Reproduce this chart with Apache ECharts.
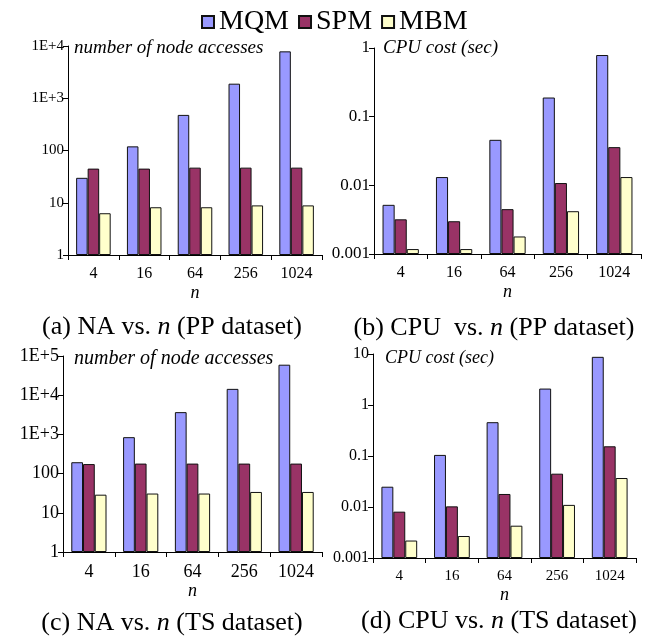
<!DOCTYPE html>
<html>
<head>
<meta charset="utf-8">
<script src="https://cdn.jsdelivr.net/npm/echarts@6/dist/echarts.min.js"></script>
<style>
  html, body { margin: 0; padding: 0; background: #fff; }
  #chart { width: 649px; height: 636px; }
</style>
</head>
<body>
<div id="chart"></div>
<script>
// categories (n)
const categories = ["4", "16", "64", "256", "1024"];
const seriesNames = ["MQM", "SPM", "MBM"];

// (a) NA vs. n (PP dataset)
const naPP_MQM = [30, 120, 480, 1900, 7900];
const naPP_SPM = [45, 45, 47, 47, 47];
const naPP_MBM = [6.3, 8.2, 8.2, 8.9, 8.9];

// (b) CPU vs. n (PP dataset)
const cpuPP_MQM = [0.0052, 0.0132, 0.046, 0.19, 0.79];
const cpuPP_SPM = [0.0032, 0.003, 0.0045, 0.0108, 0.036];
const cpuPP_MBM = [0.00118, 0.00118, 0.0018, 0.0042, 0.0132];

// (c) NA vs. n (TS dataset)
const naTS_MQM = [195, 850, 3700, 14500, 60000];
const naTS_SPM = [175, 180, 180, 180, 180];
const naTS_MBM = [29, 31, 31, 34, 34];

// (d) CPU vs. n (TS dataset)
const cpuTS_MQM = [0.025, 0.105, 0.46, 2.1, 8.8];
const cpuTS_SPM = [0.0081, 0.0103, 0.018, 0.045, 0.155];
const cpuTS_MBM = [0.0022, 0.0027, 0.0043, 0.011, 0.037];

const colors = ["#9999FF", "#993366", "#FFFFCC"];
const FONT = "Liberation Serif";

const chart = echarts.init(document.getElementById("chart"));

const panels = [
  { grid: { left: 68, top: 46, width: 254, height: 209 }, min: 1, max: 1e4, data: [naPP_MQM, naPP_SPM, naPP_MBM], yFont: 15, xFont: 16, sci: true },
  { grid: { left: 374, top: 48, width: 267, height: 206 }, min: 0.001, max: 1, data: [cpuPP_MQM, cpuPP_SPM, cpuPP_MBM], yFont: 17, xFont: 16, sci: false },
  { grid: { left: 63, top: 356, width: 259, height: 196 }, min: 1, max: 1e5, data: [naTS_MQM, naTS_SPM, naTS_MBM], yFont: 18, xFont: 18, sci: true },
  { grid: { left: 373, top: 354, width: 263, height: 204 }, min: 0.001, max: 10, data: [cpuTS_MQM, cpuTS_SPM, cpuTS_MBM], yFont: 16, xFont: 15, sci: false }
];

function fmt(sci) {
  return function (v) {
    const e = Math.round(Math.log10(v));
    if (sci && e >= 3) return "1E+" + e;
    return String(Number(Math.pow(10, e).toPrecision(1)));
  };
}

const series = [];
panels.forEach((p, i) => {
  p.data.forEach((vals, k) => {
    series.push({
      name: seriesNames[k],
      type: "bar",
      xAxisIndex: i,
      yAxisIndex: i,
      data: vals,
      barGap: 0,
      barCategoryGap: "32%",
      itemStyle: { color: colors[k], borderColor: "#111", borderWidth: 1 }
    });
  });
});

const texts = [
  // y axis titles
  { x: 74, y: 48, text: "{i|number of node accesses}", size: 19, align: "left" },
  { x: 383, y: 48, text: "{i|CPU cost (sec)}", size: 19, align: "left" },
  { x: 74, y: 359, text: "{i|number of node accesses}", size: 20, align: "left" },
  { x: 385, y: 358, text: "{i|CPU cost (sec)}", size: 18, align: "left" },
  // captions
  { x: 172, y: 327, text: "{r|(a) NA vs. }{i|n}{r| (PP dataset)}", size: 26, align: "center" },
  { x: 494, y: 328, text: "{r|(b) CPU  vs. }{i|n}{r| (PP dataset)}", size: 26, align: "center" },
  { x: 172, y: 623, text: "{r|(c) NA vs. }{i|n}{r| (TS dataset)}", size: 26, align: "center" },
  { x: 499, y: 621, text: "{r|(d) CPU vs. }{i|n}{r| (TS dataset)}", size: 26, align: "center" }
];

const option = {
  animation: false,
  backgroundColor: "#fff",
  textStyle: { fontFamily: FONT, color: "#000" },
  legend: {
    data: seriesNames,
    left: 196,
    top: 3,
    itemWidth: 12,
    itemHeight: 12,
    itemGap: 9,
    icon: "rect",
    textStyle: { fontFamily: FONT, fontSize: 28, color: "#000" }
  },
  grid: panels.map(p => p.grid),
  xAxis: panels.map((p, i) => ({
    type: "category",
    gridIndex: i,
    data: categories,
    name: "n",
    nameLocation: "middle",
    nameGap: i >= 2 ? 28 : 29,
    nameTextStyle: { fontFamily: FONT, fontStyle: "italic", fontSize: 18, color: "#000" },
    axisLine: { lineStyle: { color: "#000", width: 1 } },
    axisTick: { show: true, length: 5, lineStyle: { color: "#000" } },
    axisLabel: { fontFamily: FONT, fontSize: p.xFont, color: "#000", margin: 11 }
  })),
  yAxis: panels.map((p, i) => ({
    type: "log",
    logBase: 10,
    gridIndex: i,
    min: p.min,
    max: p.max,
    startValue: p.min,
    axisLine: { show: true, lineStyle: { color: "#000", width: 1 } },
    axisTick: { show: true, length: 5, lineStyle: { color: "#000" } },
    splitLine: { show: false },
    minorTick: { show: false },
    axisLabel: { fontFamily: FONT, fontSize: p.yFont, color: "#000", margin: 4, formatter: fmt(p.sci) }
  })),
  series: series,
  graphic: texts.map(t => ({
    type: "text",
    x: t.x,
    y: t.y,
    style: {
      text: t.text,
      align: t.align,
      verticalAlign: "middle",
      rich: {
        r: { fontFamily: FONT, fontSize: t.size, fill: "#000" },
        i: { fontFamily: FONT, fontSize: t.size, fontStyle: "italic", fill: "#000" }
      }
    }
  }))
};

chart.setOption(option);
</script>
</body>
</html>
